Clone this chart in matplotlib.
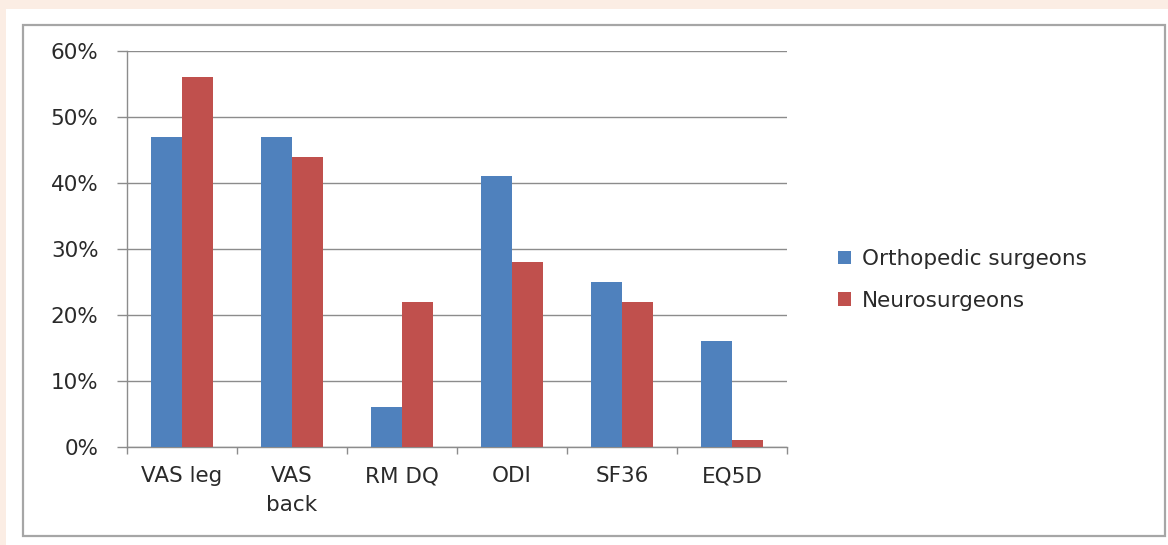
import matplotlib
matplotlib.use("Agg")
import matplotlib.pyplot as plt
from matplotlib.patches import Rectangle, Patch
from matplotlib.ticker import FixedLocator, PercentFormatter
import numpy as np

categories = ["VAS leg", "VAS\nback", "RM DQ", "ODI", "SF36", "EQ5D"]
orthopedic = [47, 47, 6, 41, 25, 16]
neuro = [56, 44, 22, 28, 22, 1]
series_names = ["Orthopedic surgeons", "Neurosurgeons"]
yticks = [0, 10, 20, 30, 40, 50, 60]

BLUE = "#4f81bd"
RED = "#c0504d"
GRID = "#8c8c8c"
TEXT = "#2a2a2a"
FONT = "DejaVu Sans"
FS = 15.5

W, H = 1168, 545
fig = plt.figure(figsize=(W / 100, H / 100), dpi=100, facecolor="#fbede4")

def px(x0, y0, x1, y1):
    return [x0 / W, 1 - y1 / H, (x1 - x0) / W, (y1 - y0) / H]

# white page and chart frame
bg = fig.add_axes([0, 0, 1, 1], zorder=-2)
bg.set_xlim(0, W)
bg.set_ylim(H, 0)
bg.axis("off")
bg.add_patch(Rectangle((6, 9), W - 6, H - 9, facecolor="white", edgecolor="none"))
bg.add_patch(Rectangle((23, 25), 1142, 511, facecolor="white",
                       edgecolor="#a6a6a6", linewidth=1.6))

ax = fig.add_axes(px(127, 51, 787, 447))
ax.set_facecolor("none")

x = np.arange(len(categories))
bw = 0.282
ax.bar(x - bw / 2, orthopedic, bw, color=BLUE, zorder=3)
ax.bar(x + bw / 2, neuro, bw, color=RED, zorder=3)

ax.set_xlim(-0.5, len(categories) - 0.5)
ax.set_ylim(0, 60)
ax.yaxis.set_major_locator(FixedLocator(yticks))
ax.yaxis.set_major_formatter(PercentFormatter(decimals=0))
ax.grid(axis="y", color=GRID, linewidth=1.0, zorder=0)
ax.set_axisbelow(True)

for side in ("top", "right"):
    ax.spines[side].set_visible(False)
for side in ("left", "bottom"):
    ax.spines[side].set_color(GRID)
    ax.spines[side].set_linewidth(1.0)

ax.set_xticks(x)
ax.set_xticklabels(categories, fontfamily=FONT, fontsize=FS, color=TEXT,
                   linespacing=1.55)
ax.set_xticks(np.arange(-0.5, len(categories)), minor=True)
ax.tick_params(axis="x", which="major", length=0, pad=14)
ax.tick_params(axis="x", which="minor", length=5, width=1.0, color=GRID,
               direction="out")
ax.tick_params(axis="y", length=7.5, width=1.0, color=GRID, pad=13,
               labelsize=FS, labelcolor=TEXT)
for lab in ax.get_yticklabels():
    lab.set_fontfamily(FONT)

handles = [Patch(facecolor=BLUE, edgecolor="none"),
           Patch(facecolor=RED, edgecolor="none")]
fig.legend(handles, series_names, loc="center left",
           bbox_to_anchor=(819 / W, 1 - 280 / H), frameon=False,
           prop={"family": FONT, "size": FS}, labelcolor=TEXT,
           handlelength=0.6, handleheight=0.6, handletextpad=0.5,
           labelspacing=1.0)

fig.savefig("out.png", dpi=100, facecolor=fig.get_facecolor())
